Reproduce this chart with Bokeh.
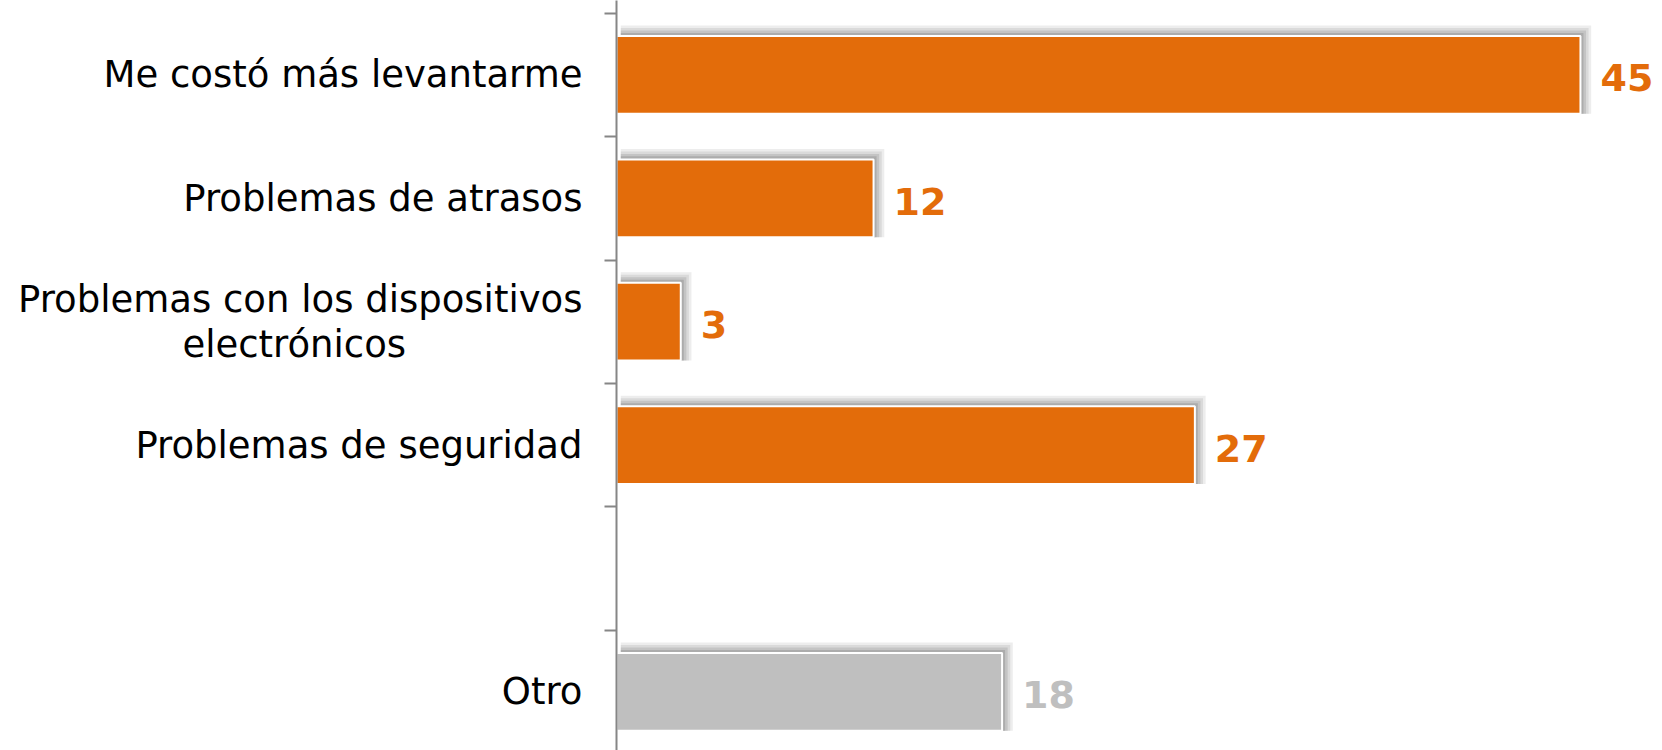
import numpy as np
from bokeh.plotting import figure
from bokeh.models import ColumnDataSource, FixedTicker, LabelSet, Range1d
from bokeh.core.properties import value
from bokeh.embed import file_html
from bokeh.resources import INLINE

# ---- data ----
categories = [
    "Me costó más levantarme",
    "Problemas de atrasos",
    "Problemas con los dispositivos\nelectrónicos" + "\u00a0" * 15,
    "Problemas de seguridad",
    "",
    "Otro",
]
values = [45, 12, 3, 27, None, 18]
bar_colors = ["#E36C0A", "#E36C0A", "#E36C0A", "#E36C0A", None, "#BFBFBF"]
label_colors = ["#E36C0A", "#E36C0A", "#E36C0A", "#E36C0A", None, "#BFBFBF"]

n = len(categories)
centers = [n - i - 0.5 for i in range(n)]
boundaries = [float(n - i) for i in range(n)] + [0.0]

rows = [i for i in range(n) if values[i] is not None]
src = ColumnDataSource(dict(
    y=[centers[i] for i in rows],
    v=[values[i] for i in rows],
    txt=[str(values[i]) for i in rows],
    color=[bar_colors[i] for i in rows],
    lcolor=[label_colors[i] for i in rows],
))

BAR_H = 0.63

p = figure(width=1662, height=750, output_backend="svg", toolbar_location=None,
           x_range=Range1d(0, 48.83), y_range=Range1d(0.025, 6.103),
           min_border_left=616, min_border_right=0, min_border_top=0, min_border_bottom=0)
p.outline_line_color = None
p.xgrid.visible = False
p.ygrid.visible = False
p.xaxis.visible = False

# soft drop shadow (stacked translucent layers)
vv = np.array(src.data["v"], dtype=float)
yy = np.array(src.data["y"], dtype=float)
shadow_layers = [(0.5, 0.085, 0.12), (0.38, 0.065, 0.15), (0.26, 0.045, 0.2), (0.14, 0.025, 0.28)]
for dx, dy, a in shadow_layers:
    s = ColumnDataSource(dict(y=yy + dy / 2.0, right=vv + dx, h=np.full(len(vv), BAR_H + dy)))
    p.hbar(y="y", left=0.2, right="right", height="h", source=s,
           fill_color="#6F6F6F", fill_alpha=a, line_color=None)

p.hbar(y="y", left=0, right="v", height=BAR_H, source=src,
       fill_color="color", line_color="white", line_width=2)

labels = LabelSet(x="v", y="y", text="txt", source=src, x_offset=20, y_offset=-3,
                  text_color="lcolor", text_font=value("DejaVu Sans"), text_font_style="bold",
                  text_font_size=value("38px"), text_baseline="middle", text_align="left")
p.add_layout(labels)

ax = p.yaxis[0]
ax.ticker = FixedTicker(ticks=centers, minor_ticks=boundaries)
ax.major_label_overrides = {c: categories[i] for i, c in enumerate(centers)}
ax.major_tick_line_color = None
ax.major_tick_out = 0
ax.major_tick_in = 0
ax.minor_tick_out = 12
ax.minor_tick_in = 0
ax.minor_tick_line_color = "#868686"
ax.minor_tick_line_width = 2
ax.axis_line_color = "#868686"
ax.axis_line_width = 2
ax.major_label_standoff = 22
ax.major_label_text_font = "DejaVu Sans"
ax.major_label_text_font_size = "37px"
ax.major_label_text_color = "#000000"
ax.major_label_text_line_height = 1.05

open("out.html", "w").write(file_html(p, INLINE))
